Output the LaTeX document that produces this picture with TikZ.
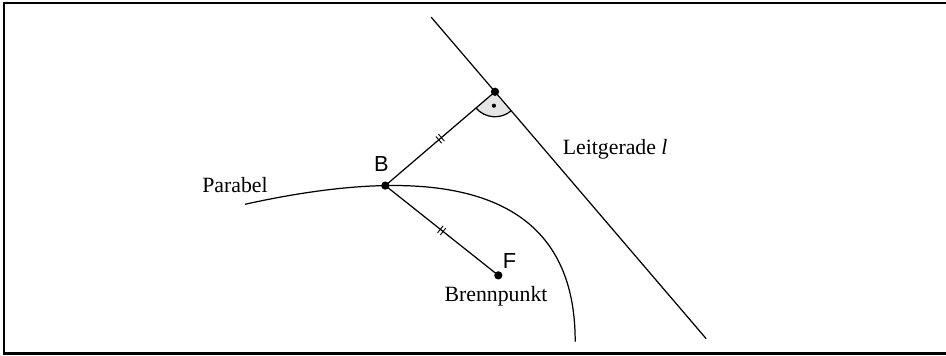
\documentclass[tikz,border=0pt]{standalone}
\usepackage{fontspec}
\setmainfont{Liberation Serif}
\setsansfont{Liberation Sans}
\usepackage{tikz}
\usetikzlibrary{decorations.markings}

\tikzset{
  linie/.style={line width=0.7pt},
  punkt/.style={circle, fill=black, inner sep=0pt, minimum size=1.65mm},
  gleich/.style={decoration={markings, mark=at position 0.5 with {
      \draw[line width=0.5pt] (-0.035,-0.09) -- (-0.035,0.09);
      \draw[line width=0.5pt] (0.035,-0.09) -- (0.035,0.09);}},
    postaction=decorate},
  beschriftung/.style={font=\fontsize{12.4}{14}\selectfont, inner sep=0pt}
}

\begin{document}
\begin{tikzpicture}
  \useasboundingbox (0,0) rectangle (18.92,7.1);

  % Rahmen (rechts offen)
  \draw[line width=1.3pt] (18.92,7.04) -- (0.086,7.04) -- (0.086,0.03) -- (18.92,0.03);

  % Parabel mit Scheitel V, Brennpunkt F und Leitgerade l (p = 2.336)
  \begin{scope}[shift={(10.854,2.352)}, rotate=130.54]
    \coordinate (F) at (0,1.168);
    \coordinate (B) at (2.834,1.719);
    \coordinate (P) at (2.834,-1.168);
    \coordinate (l1) at (4.798,-1.168);
    \coordinate (l2) at (-3.666,-1.168);

    % rechter Winkel
    \fill[gray!20] (P) -- ++(90:0.5) arc[start angle=90, end angle=180, radius=0.5] -- cycle;
    \draw[linie] (P) ++(90:0.5) arc[start angle=90, end angle=180, radius=0.5];
    \fill (P) ++(135:0.28) circle (0.042);

    \draw[linie, domain=-2.006:4.374, samples=90, smooth] plot (\x, {\x*\x/4.672});
    \draw[linie] (l1) -- (l2);
  \end{scope}

  % Abstaende
  \draw[linie, gleich] (B) -- (P);
  \draw[linie, gleich] (B) -- (F);

  % Punkte
  \node[punkt] (pB) at (B) {};
  \node[punkt] (pF) at (F) {};
  \node[punkt] (pP) at (P) {};

  % Beschriftungen
  \node[beschriftung, anchor=base] (tB) at (7.63,3.666) {\sffamily B};
  \node[beschriftung, anchor=base] (tF) at (10.19,1.74) {\sffamily F};
  \node[beschriftung, anchor=base] (tbrenn) at (9.92,1.08) {Brennpunkt};
  \node[beschriftung, anchor=base] (tpar) at (4.70,3.24) {Parabel};
  \node[beschriftung, anchor=base west] (tleit) at (11.25,4.0) {Leitgerade \textit{l}};
\end{tikzpicture}
\end{document}
